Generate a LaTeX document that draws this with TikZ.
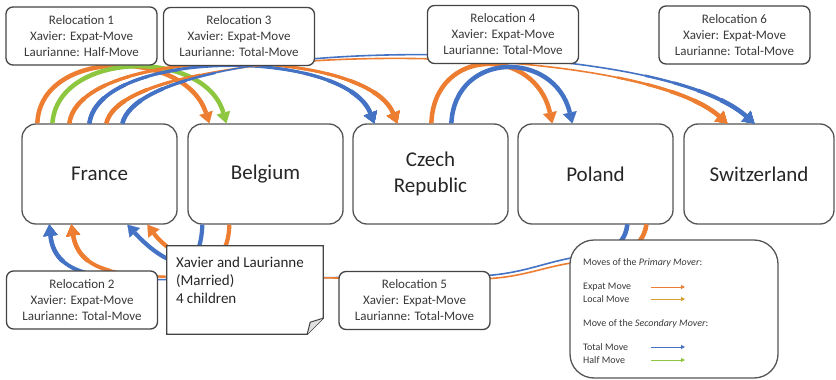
\documentclass[tikz,border=0pt]{standalone}
\usepackage{fontspec}
\setmainfont{Carlito}
\usetikzlibrary{arrows.meta,calc}

\definecolor{movorange}{HTML}{ED7D31}
\definecolor{movblue}{HTML}{4472C4}
\definecolor{movgreen}{HTML}{8DC63F}
\definecolor{movgold}{HTML}{D69E2E}
\definecolor{frame}{HTML}{555555}
\definecolor{ink}{HTML}{262626}
\definecolor{softink}{HTML}{3A3A3A}

% thick start of a curved move (layers get thinner with distance)
\newcommand\taperfwd[5]{%
  \foreach \thk/\len in {2.4pt/110pt,3.1pt/80pt,3.8pt/55pt,4.5pt/30pt}{%
    \draw[#1, line width=\thk, dash pattern=on \len off 3000pt] #2 .. controls #3 and #4 .. #5;}}
% thick end of a curved move, with its arrow head at the last point
\newcommand\taperbwd[5]{%
  \foreach \thk/\len in {2.4pt/110pt,3.1pt/80pt,3.8pt/55pt,4.5pt/30pt}{%
    \draw[#1, line width=\thk, dash pattern=on \len off 3000pt, headstart] #5 .. controls #4 and #3 .. #2;}}
% a whole curved move: thin in the middle, thick at both ends
\newcommand\tapermove[6]{%
  \draw[#1, line width=#2, headend] #3 .. controls #4 and #5 .. #6;
  \taperfwd{#1}{#3}{#4}{#5}{#6}%
  \taperbwd{#1}{#3}{#4}{#5}{#6}}

\begin{document}
\begin{tikzpicture}[x=1pt,y=-1pt,
  headend/.style={-{Triangle[length=11pt,width=14pt,line width=0.2pt]}},
  headstart/.style={{Triangle[length=11pt,width=14pt,line width=0.2pt]}-},
  bigmove/.style={line width=4.5pt, headend},
  country/.style={draw=frame, line width=1.3pt, fill=white, rounded corners=14pt,
    minimum width=155pt, minimum height=100pt, inner sep=0pt, align=center,
    text=ink, font=\fontsize{21}{26}\selectfont},
  reloc/.style={draw=frame!80!black, line width=1.3pt, fill=white, rounded corners=7pt,
    minimum width=151pt, minimum height=58pt, inner sep=0pt, align=center,
    text=softink, font=\fontsize{13}{16}\selectfont},
  legtext/.style={anchor=west, inner sep=0pt, text=softink, font=\fontsize{10}{12}\selectfont},
  legarrow/.style={line width=1pt, -{Triangle[length=4pt,width=4pt]}}
]
\fill[white] (0,0) rectangle (836,380);
\useasboundingbox (0,0) rectangle (836,380);

% countries (placed first so the moves can use their anchors)
\node[country] (fr) at (99.5,174) {France};
\node[country] (be) at (265.5,174) {Belgium};
\node[country] (cz) at (430.5,174) {Czech\\Republic};
\node[country] (pl) at (595.5,174) {Poland};
\node[country, minimum width=150pt] (sw) at (759,174) {Switzerland};

% ---- moves above the countries ----
% France -> Belgium
\draw[movorange, bigmove] ($(fr.north west)+(16,0)$) .. controls (40,48) and (185,48) .. ($(be.north west)+(22,0)$);
\draw[movgreen, bigmove] ($(fr.north west)+(31,0)$) .. controls (58,50) and (205,48) .. ($(be.north west)+(39,0)$);
% France -> Czech Republic
\tapermove{movorange}{3pt}{($(fr.north west)+(48,0)$)}{(80,45)}{(365,45)}{($(cz.north west)+(45,0)$)}
\tapermove{movblue}{3pt}{($(fr.north west)+(68,0)$)}{(100,48)}{(345,48)}{($(cz.north west)+(22,0)$)}
% France -> Switzerland
\tapermove{movorange}{1.6pt}{($(fr.north west)+(85,0)$)}{(125,38)}{(630,38)}{($(sw.north west)+(44,0)$)}
\tapermove{movblue}{1.6pt}{($(fr.north west)+(101,0)$)}{(145,34)}{(650,32)}{($(sw.north west)+(71,0)$)}
% Czech Republic -> Poland
\draw[movorange, bigmove] ($(cz.north west)+(79,0)$) .. controls (434,46) and (535,46) .. ($(pl.north west)+(35,0)$);
\draw[movblue, bigmove] ($(cz.north west)+(99,0)$) .. controls (455,50) and (555,50) .. ($(pl.north west)+(55,0)$);

% ---- moves below the countries ----
% Belgium -> France
\draw[movblue, line width=4.2pt, headend] ($(be.south west)+(15,0)$) .. controls (200,290) and (155,255) .. ($(fr.south west)+(106,0)$);
\draw[movorange, line width=4.2pt, headend] ($(be.south west)+(42,0)$) .. controls (228,285) and (172,258) .. ($(fr.south west)+(126,0)$);
% Poland -> France
\draw[movblue, line width=1.6pt, headend] ($(pl.south west)+(110,0)$) .. controls (624,252) and (600,252) .. (571,258)
  .. controls (540,264) and (520,274) .. (480,276) -- (200,279)
  .. controls (110,281) and (55,280) .. ($(fr.south west)+(28,0)$);
\taperfwd{movblue}{($(pl.south west)+(110,0)$)}{(624,252)}{(600,252)}{(571,258)}
\taperbwd{movblue}{(200,279)}{(110,281)}{(55,280)}{($(fr.south west)+(28,0)$)}
\draw[movorange, line width=1.6pt, headend] ($(pl.south west)+(129,0)$) .. controls (642,258) and (600,258) .. (571,263)
  .. controls (540,268) and (520,278) .. (480,279) -- (200,277)
  .. controls (130,277) and (80,276) .. ($(fr.south west)+(50,0)$);
\taperfwd{movorange}{($(pl.south west)+(129,0)$)}{(642,258)}{(600,258)}{(571,263)}
\taperbwd{movorange}{(200,277)}{(130,277)}{(80,276)}{($(fr.south west)+(50,0)$)}

% ---- relocation labels ----
\node[reloc] (r1) at (81.5,36) {Relocation 1\\Xavier: Expat-Move\\Laurianne: Half-Move};
\node[reloc] (r3) at (239,36.5) {Relocation 3\\Xavier: Expat-Move\\Laurianne: Total-Move};
\node[reloc] (r4) at (503,34.5) {Relocation 4\\Xavier: Expat-Move\\Laurianne: Total-Move};
\node[reloc] (r6) at (734.5,35) {Relocation 6\\Xavier: Expat-Move\\Laurianne: Total-Move};
\node[reloc] (r2) at (82,300) {Relocation 2\\Xavier: Expat-Move\\Laurianne: Total-Move};
\node[reloc] (r5) at (414.5,300.5) {Relocation 5\\Xavier: Expat-Move\\Laurianne: Total-Move};

% ---- family note with folded corner ----
\node[minimum width=156pt, minimum height=88pt, inner sep=0pt] (note) at (245,290) {};
\filldraw[draw=frame!80!black, line width=1.3pt, fill=white]
  (note.north west) -- (note.north east) -- ($(note.south east)+(0,-16)$)
  -- ($(note.south east)+(-16,0)$) -- (note.south west) -- cycle;
\filldraw[draw=frame!80!black, line width=1pt, fill=black!12]
  ($(note.south east)+(-16,0)$) -- ($(note.south east)+(-13,-12)$) -- ($(note.south east)+(0,-16)$);
\node[anchor=north west, inner sep=0pt, align=left, text=ink,
  font=\fontsize{15}{18}\selectfont] (notetext) at ($(note.north west)+(9,11)$)
  {Xavier and Laurianne\\(Married)\\4 children};

% ---- legend ----
\node[draw=frame, line width=1.3pt, fill=white, rounded corners=24pt,
  minimum width=208pt, minimum height=138pt, inner sep=0pt] (legend) at (674,309) {};
\node[legtext] (lhead1) at (583,263) {Moves of the \textit{Primary Mover}:};
\node[legtext] (lexpat) at (583,287) {Expat Move};
\node[legtext] (llocal) at (583,299) {Local Move};
\node[legtext] (lhead2) at (583,324) {Move of the \textit{Secondary Mover}:};
\node[legtext] (ltotal) at (583,347) {Total Move};
\node[legtext] (lhalf) at (583,360) {Half Move};
\foreach \item/\col in {lexpat/movorange, llocal/movgold, ltotal/movblue, lhalf/movgreen}{
  \coordinate (\item-a) at (651,0 |- \item.west);
  \coordinate (\item-b) at (685,0 |- \item.west);
  \draw[\col, legarrow] (\item-a) -- (\item-b);
}
\end{tikzpicture}
\end{document}
